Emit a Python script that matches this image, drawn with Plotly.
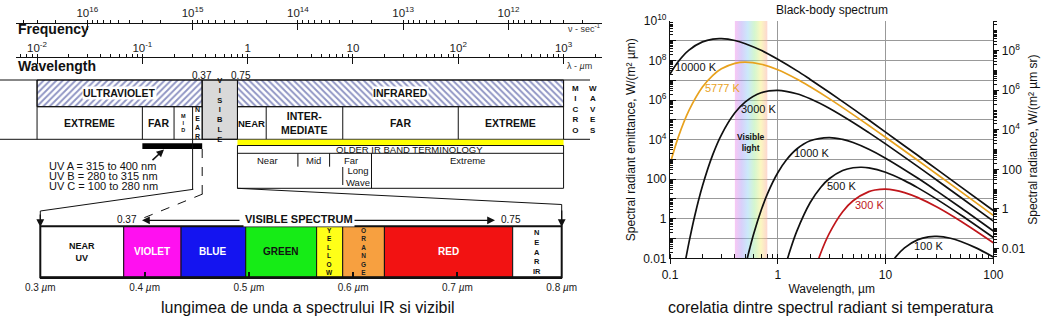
import numpy as np
import plotly.graph_objects as go

W, H = 1047, 325
FONT = "Liberation Sans, Arial, Helvetica, sans-serif"

# ================= DATA =================
# ---- right chart: spectral radiant emittance W/(m^2 um) ----
CURVE_NAMES = ["10000 K", "5777 K", "3000 K", "1000 K", "500 K", "300 K", "100 K"]

WL_10000K = [0.1, 0.12, 0.15, 0.2, 0.25, 0.3, 0.4, 0.5, 0.7, 1, 1.5, 2, 3, 5, 7, 10, 20, 30, 50, 100]
M_10000K = [2.1e7, 9.3e7, 3.4e8, 8.8e8, 1.22e9, 1.28e9, 1.03e9, 7.1e8, 3.3e8, 1.16e8, 3.1e7, 1.11e7,
            2.5e6, 3.6e5, 9.8e4, 2.4e4, 1570, 314, 41, 2.6]

WL_5777K = [0.1, 0.12, 0.15, 0.2, 0.25, 0.3, 0.4, 0.5, 0.7, 1, 1.5, 2, 3, 5, 7, 10, 20, 30, 50, 100]
M_5777K = [571, 1.46e4, 3.0e5, 4.6e6, 1.8e7, 3.8e7, 7.2e7, 8.3e7, 6.5e7, 3.4e7, 1.16e7, 4.7e6,
           1.19e6, 1.85e5, 5.2e4, 1.32e4, 880, 178, 23.4, 1.48]

WL_3000K = [0.13, 0.14, 0.15, 0.17, 0.2, 0.25, 0.3, 0.4, 0.5, 0.7, 1, 1.5, 2, 3, 5, 7, 10, 20, 30, 50, 100]
M_3000K = [1.1e-3, 9.2e-3, 0.064, 1.47, 45, 1790, 1.76e4, 2.27e5, 8.2e5, 2.36e6, 3.12e6, 2.1e6, 1.17e6,
           3.9e5, 7.4e4, 2.26e4, 6080, 431, 88.8, 11.9, 0.76]

WL_1000K = [0.45, 0.5, 0.55, 0.6, 0.7, 0.8, 1, 1.2, 1.5, 2, 3, 4, 5, 7, 10, 20, 30, 50, 100]
M_1000K = [2.6e-4, 3.8e-3, 0.032, 0.185, 2.6, 17.7, 211, 933, 3370, 8790, 1.28e4, 1.03e4, 7130, 3270,
           1160, 111, 25, 3.6, 0.242]

WL_500K = [1, 1.2, 1.3, 1.5, 2, 2.5, 3, 4, 5, 6, 7, 10, 15, 20, 30, 50, 100]
M_500K = [1.2e-4, 5.8e-3, 0.0246, 0.23, 6.6, 38.4, 105, 275, 380, 401, 371, 223, 84.8, 36.4, 9.57, 1.54, 0.112]

WL_300K = [2, 2.5, 3, 4, 5, 7, 8, 10, 12, 15, 20, 30, 50, 100]
M_300K = [4.5e-4, 0.0179, 0.176, 2.27, 8.17, 23.6, 28.5, 31.2, 28.2, 21.0, 11.7, 3.9, 0.744, 0.0608]

WL_100K = [10, 12, 15, 20, 25, 30, 40, 50, 70, 100]
M_100K = [2.1e-3, 9.3e-3, 0.0336, 0.088, 0.122, 0.128, 0.103, 0.0713, 0.0327, 0.0116]

VISIBLE_LIGHT = [0.4, 0.8]          # um, rainbow band

BB_X_TICKS = [0.1, 1, 10, 100]
BB_X_TEXT = ["0.1", "1", "10", "100"]
BB_Y_TICKS = [1e-2, 1e-1, 1, 10, 100, 1e3, 1e4, 1e5, 1e6, 1e7, 1e8, 1e9, 1e10]
BB_Y_TEXT = ["0.01", "", "1", "", "100", "", "10<sup>4</sup>", "", "10<sup>6</sup>", "",
             "10<sup>8</sup>", "", "10<sup>10</sup>"]
BB_Y2_TICKS = [0.01, 1, 100, 1e4, 1e6, 1e8]
BB_Y2_TEXT = ["0.01", "1", "100", "10<sup>4</sup>", "10<sup>6</sup>", "10<sup>8</sup>"]

# ---- left diagram ----
WL_TICKS = [0.01, 0.1, 1, 10, 100, 1000]
WL_TICK_TEXT = ["10<sup>-2</sup>", "10<sup>-1</sup>", "1", "10", "10<sup>2</sup>", "10<sup>3</sup>"]
FREQ_TICKS = [1e16, 1e15, 1e14, 1e13, 1e12]
FREQ_TICK_TEXT = ["10<sup>16</sup>", "10<sup>15</sup>", "10<sup>14</sup>", "10<sup>13</sup>", "10<sup>12</sup>"]

MAJOR_NAMES = ["ULTRAVIOLET", "INFRARED"]
MAJOR_START = [0.01, 0.8]
MAJOR_END = [0.37, 1000]
VISIBLE_BAND = [0.37, 0.8]
UV_EDGES = [0.01, 0.1, 0.2, 0.3, 0.37]
UV_NAMES = ["EXTREME", "FAR", "M<br>I<br>D", "N<br>E<br>A<br>R"]
IR_EDGES = [0.8, 1.5, 8, 100, 1000]
IR_NAMES = ["NEAR", "INTER-<br>MEDIATE", "FAR", "EXTREME"]
OLD_IR_EDGES = [0.8, 3, 6, 15, 1000]
OLD_IR_NAMES = ["Near", "Mid", "Far", "Extreme"]
LONG_WAVE_START = 8
UV_ABC_RANGE = [0.1, 0.37]
UV_ABC_TEXT = ["UV A = 315 to 400 nm", "UV B = 280 to 315 nm", "UV C = 100 to 280 nm"]

VIS_EDGES = [0.3, 0.38, 0.435, 0.497, 0.565, 0.59, 0.63, 0.753, 0.8]
VIS_NAMES = ["NEAR<br>UV", "VIOLET", "BLUE", "GREEN", "Y<br>E<br>L<br>L<br>O<br>W",
             "O<br>R<br>A<br>N<br>G<br>E", "RED", "N<br>E<br>A<br>R<br>IR"]
VIS_TICKS = [0.3, 0.4, 0.5, 0.6, 0.7, 0.8]
VIS_TICK_TEXT = ["0.3 <i>µ</i>m", "0.4 <i>µ</i>m", "0.5 <i>µ</i>m", "0.6 <i>µ</i>m", "0.7 <i>µ</i>m", "0.8 <i>µ</i>m"]

# ================= STYLES =================
CURVE_COLORS = ["#111111", "#e8a21e", "#111111", "#111111", "#111111", "#c0161b", "#111111"]
VIS_COLORS = ["#ffffff", "#ff10f0", "#1414f0", "#16ec16", "#ffff18", "#f7a040", "#f21212", "#ffffff"]
VIS_TEXT_COLORS = ["#111", "#fff", "#fff", "#111", "#111", "#222", "#fff", "#111"]
VIS_TEXT_SIZES = [9, 10, 10, 10, 6.5, 6.5, 10, 7.5]


def px(x):
    return x / W


def py(y):
    return 1 - y / H


def glog(a, b):
    return (np.log10(a) + np.log10(b)) / 2


fig = go.Figure()
shapes = []
annots = []


def ann(text, x, y, xref="paper", yref="paper", size=11, color="#111", bold=False, **kw):
    t = f"<b>{text}</b>" if bold else text
    d = dict(text=t, x=x, y=y, xref=xref, yref=yref, showarrow=False, xanchor="center", yanchor="middle",
             font=dict(family=FONT, size=size, color=color))
    d.update(kw)
    annots.append(d)


def seg(x0, y0, x1, y1, xref="x", yref="y", color="#111", width=1, dash=None):
    ln = dict(color=color, width=width)
    if dash:
        ln["dash"] = dash
    shapes.append(dict(type="line", x0=x0, y0=y0, x1=x1, y1=y1, xref=xref, yref=yref, line=ln, layer="above"))


def pseg(x0, y0, x1, y1, **kw):
    seg(px(x0), py(y0), px(x1), py(y1), xref="paper", yref="paper", **kw)


def arrow_head(xh, yh, ax, ay, width=1.2, size=1.0):
    annots.append(dict(text="", x=px(xh), y=py(yh), xref="paper", yref="paper", showarrow=True,
                       ax=ax, ay=ay, arrowhead=2, arrowsize=size, arrowwidth=width, arrowcolor="#111"))


# ================= RIGHT CHART =================
Y_LO, Y_HI = -2, 10
vx = [VISIBLE_LIGHT[0], VISIBLE_LIGHT[1], VISIBLE_LIGHT[1], VISIBLE_LIGHT[0], VISIBLE_LIGHT[0]]
vy = [10 ** Y_LO, 10 ** Y_LO, 10 ** Y_HI, 10 ** Y_HI, 10 ** Y_LO]
fig.add_trace(go.Scatter(
    x=vx, y=vy, mode="none", fill="toself", xaxis="x2", yaxis="y2",
    fillgradient=dict(type="horizontal", colorscale=[
        [0.0, "rgba(240,130,230,0.45)"], [0.2, "rgba(170,150,245,0.45)"],
        [0.4, "rgba(140,205,245,0.45)"], [0.6, "rgba(160,235,150,0.45)"],
        [0.8, "rgba(248,240,130,0.5)"], [1.0, "rgba(250,175,160,0.5)"]]),
    hoverinfo="skip", showlegend=False))

curves = [(WL_10000K, M_10000K), (WL_5777K, M_5777K), (WL_3000K, M_3000K), (WL_1000K, M_1000K),
          (WL_500K, M_500K), (WL_300K, M_300K), (WL_100K, M_100K)]
for (wl, m), col in zip(curves, CURVE_COLORS):
    fig.add_trace(go.Scatter(x=wl, y=m, mode="lines", xaxis="x2", yaxis="y2",
                             line=dict(color=col, width=1.7, shape="spline", smoothing=1.0),
                             hoverinfo="skip", showlegend=False))
# dummy trace so the right-hand axis is rendered
fig.add_trace(go.Scatter(x=[1], y=[1], mode="markers", marker=dict(opacity=0), xaxis="x2", yaxis="y3",
                         hoverinfo="skip", showlegend=False))

label_pos = [(0.174, 4.85e7), (0.31, 4.2e6), (0.67, 3.5e5), (2.08, 2150), (3.87, 45.8), (7.05, 4.83), (24.9, 0.0405)]
label_col = ["#111", "#e8a21e", "#111", "#111", "#111", "#c0161b", "#111"]
for name, (lx, ly), c in zip(CURVE_NAMES, label_pos, label_col):
    ann(name, np.log10(lx), np.log10(ly), xref="x2", yref="y2", size=11, color=c)
ann("Visible<br>light", np.log10(0.56), np.log10(7460), xref="x2", yref="y2", size=8.5, bold=True)
ann("Black-body spectrum", px(832), py(10), size=12)

# ================= LEFT DIAGRAM =================
Y_TOP, Y_MID, Y_BOT = 80, 106.7, 139.3

# hatched UV / IR band row
fig.add_trace(go.Bar(
    y=[(Y_TOP + Y_MID) / 2] * 2, base=MAJOR_START,
    x=[e - s for s, e in zip(MAJOR_START, MAJOR_END)], orientation="h", width=Y_MID - Y_TOP,
    xaxis="x", yaxis="y",
    marker=dict(color="white", line=dict(color="#111", width=1),
                pattern=dict(shape=["/", "\\"], fgcolor="#1f2a88", bgcolor="white", size=4.5, solidity=0.42)),
    hoverinfo="skip", showlegend=False))
# dummy on frequency axis
fig.add_trace(go.Scatter(x=[1e14], y=[-50], mode="markers", marker=dict(opacity=0), xaxis="x3", yaxis="y",
                         hoverinfo="skip", showlegend=False))

# visible gray block
shapes.append(dict(type="rect", x0=VISIBLE_BAND[0], x1=VISIBLE_BAND[1], y0=Y_TOP, y1=Y_BOT, xref="x", yref="y",
                   fillcolor="#d9d9d9", line=dict(color="#111", width=1), layer="above"))
ann("V<br>I<br>S<br>I<br>B<br>L<br>E", glog(*VISIBLE_BAND), (Y_TOP + Y_BOT) / 2, xref="x", yref="y", size=7.5, bold=True)

# frame lines
pseg(0, Y_TOP, 590, Y_TOP)
pseg(0, Y_BOT, 590, Y_BOT)
for xv in [MAJOR_START[0], MAJOR_END[0], MAJOR_START[1], MAJOR_END[1]]:
    seg(xv, Y_TOP, xv, Y_BOT)
seg(UV_EDGES[0], Y_MID, UV_EDGES[-1], Y_MID)
seg(IR_EDGES[0], Y_MID, IR_EDGES[-1], Y_MID)
for xv in UV_EDGES[1:-1] + IR_EDGES[1:-1]:
    seg(xv, Y_MID, xv, Y_BOT)

# labels band row
for name, s, e in zip(MAJOR_NAMES, MAJOR_START, MAJOR_END):
    ann(name, glog(s, e), (Y_TOP + Y_MID) / 2, xref="x", yref="y", size=10.5, bold=True, bgcolor="white",
        borderpad=0)
uv_sizes = [10.5, 10.5, 5.5, 7]
for i, name in enumerate(UV_NAMES):
    ann(name, glog(UV_EDGES[i], UV_EDGES[i + 1]), (Y_MID + Y_BOT) / 2, xref="x", yref="y",
        size=uv_sizes[i], bold=True)
ir_sizes = [9.5, 10.5, 10.5, 10.5]
for i, name in enumerate(IR_NAMES):
    ann(name, glog(IR_EDGES[i], IR_EDGES[i + 1]), (Y_MID + Y_BOT) / 2, xref="x", yref="y",
        size=ir_sizes[i], bold=True)
ann("M<br>I<br>C<br>R<br>O", px(575), py(109), size=8, bold=True)
ann("W<br>A<br>V<br>E<br>S", px(593), py(109), size=8, bold=True)
ann("0.37", np.log10(VISIBLE_BAND[0]), 75, xref="x", yref="y", size=10)
ann("0.75", np.log10(VISIBLE_BAND[1]), 75, xref="x", yref="y", size=10, xshift=4)

# axis captions
ann("Frequency", px(16), py(28.5), size=14, bold=True, xanchor="left")
ann("Wavelength", px(16), py(66), size=14, bold=True, xanchor="left")
ann("ν - sec<sup>-1</sup>", px(566), py(28), size=9, xanchor="left", color="#333")
ann("λ - <i>µ</i>m", px(565), py(66), size=9, xanchor="left", color="#333")

# UV A/B/C bar and text
shapes.append(dict(type="rect", x0=UV_ABC_RANGE[0], x1=UV_ABC_RANGE[1], y0=143.3, y1=149, xref="x", yref="y",
                   fillcolor="#000", line=dict(width=0), layer="above"))
for i, t in enumerate(UV_ABC_TEXT):
    ann(t, px(46.5), py(165.7 + 10 * i), size=11, xanchor="left")
arrow_head(164, 149.5, -13, 12, width=1.5)

# older IR terminology box
shapes.append(dict(type="rect", x0=OLD_IR_EDGES[0], x1=OLD_IR_EDGES[-1], y0=Y_BOT + 0.5, y1=145.5, xref="x",
                   yref="y", fillcolor="#ffff00", line=dict(width=0), layer="above"))
shapes.append(dict(type="rect", x0=OLD_IR_EDGES[0], x1=OLD_IR_EDGES[-1], y0=145.5, y1=188.3, xref="x",
                   yref="y", fillcolor="rgba(0,0,0,0)", line=dict(color="#111", width=1), layer="above"))
seg(OLD_IR_EDGES[0], 153.3, OLD_IR_EDGES[-1], 153.3)
seg(OLD_IR_EDGES[1], 153.3, OLD_IR_EDGES[1], 166.7)
seg(OLD_IR_EDGES[2], 153.3, OLD_IR_EDGES[2], 166.7)
seg(OLD_IR_EDGES[3], 153.3, OLD_IR_EDGES[3], 188.3)
seg(LONG_WAVE_START, 167, LONG_WAVE_START, 185)
ann("OLDER IR BAND TERMINOLOGY", glog(OLD_IR_EDGES[0], OLD_IR_EDGES[-1]), 149.3, xref="x", yref="y",
    size=9.5, xshift=9)
for i, name in enumerate(OLD_IR_NAMES):
    ann(name, glog(OLD_IR_EDGES[i], OLD_IR_EDGES[i + 1]), 160.7, xref="x", yref="y", size=9.5)
ann("Long<br>Wave", np.log10(LONG_WAVE_START), 176.5, xref="x", yref="y", size=9.5, xanchor="left", xshift=1)

# connectors to the visible-spectrum bar
seg(UV_EDGES[3], Y_BOT, UV_EDGES[3], 189.3)
pseg(193.3, 189.3, 40.3, 211)
pseg(40.3, 211, 40.3, 222)
arrow_head(40.3, 227, 0, -14, width=1.3, size=1.2)
seg(UV_EDGES[4], 149, UV_EDGES[4], 194, dash="dash")
pseg(202.7, 194, 143.5, 218, dash="dash")
pseg(237.3, 188.3, 561.7, 204.5)
pseg(561.7, 204.5, 561.7, 222)
arrow_head(561.7, 227, 0, -18, width=1.3, size=1.2)

# VISIBLE SPECTRUM arrow row
arrow_head(142, 220.3, 99, 0, width=1.2, size=1.3)
arrow_head(495, 220.3, -143, 0, width=1.2, size=1.3)
ann("0.37", px(127), py(219.3), size=10)
ann("0.75", px(511), py(219.3), size=10)
ann("VISIBLE SPECTRUM", px(299), py(219.3), size=11, bold=True, bgcolor="white")

# visible spectrum colour bar
fig.add_trace(go.Bar(
    y=[0] * (len(VIS_EDGES) - 1), base=VIS_EDGES[:-1],
    x=[e - s for s, e in zip(VIS_EDGES[:-1], VIS_EDGES[1:])], orientation="h", width=1,
    xaxis="x4", yaxis="y4", marker=dict(color=VIS_COLORS, line=dict(color="#111", width=1)),
    hoverinfo="skip", showlegend=False))
shapes.append(dict(type="rect", x0=0, x1=1, y0=0, y1=1, xref="x4 domain", yref="y4 domain",
                   line=dict(color="#111", width=2), layer="above"))
for i, name in enumerate(VIS_NAMES):
    ann(name, (VIS_EDGES[i] + VIS_EDGES[i + 1]) / 2, 0, xref="x4", yref="y4", size=VIS_TEXT_SIZES[i],
        color=VIS_TEXT_COLORS[i], bold=True)

# captions
ann("lungimea de unda a spectrului IR si vizibil", px(307.5), py(307.5), size=16)
ann("corelatia dintre spectrul radiant si temperatura", px(831), py(307.5), size=16)

# ================= LAYOUT =================
axis_font = dict(family=FONT, size=11.5, color="#222")
top_axis_common = dict(type="log", side="top", anchor="free", showline=True, linecolor="#111", linewidth=1,
                       ticks="inside", ticklen=6, tickcolor="#111", showgrid=False, zeroline=False,
                       tickfont=axis_font, ticklabelstandoff=1, automargin=False,
                       minor=dict(ticks="outside", ticklen=3, tickcolor="#111", dtick="D1", showgrid=False))

fig.update_layout(
    width=W, height=H, margin=dict(l=0, r=0, t=0, b=0, autoexpand=False),
    paper_bgcolor="white", plot_bgcolor="white", barmode="overlay",
    font=dict(family=FONT, size=12, color="#111"),
    xaxis=dict(range=[-2.2, 3.365], domain=[px(16), px(602)], position=py(57.3),
               tickvals=WL_TICKS, ticktext=WL_TICK_TEXT, **top_axis_common),
    xaxis3=dict(range=[16.677, 11.112], overlaying="x", position=py(22.7),
                tickvals=FREQ_TICKS, ticktext=FREQ_TICK_TEXT, **top_axis_common),
    yaxis=dict(range=[H, 0], domain=[0, 1], visible=False, fixedrange=True, automargin=False),
    xaxis2=dict(type="log", range=[-1, 2], domain=[px(670), px(993.3)], anchor="y2", automargin=False,
                tickvals=BB_X_TICKS, ticktext=BB_X_TEXT, ticks="outside", ticklen=5, tickcolor="#111",
                minor=dict(ticks="inside", ticklen=4, tickcolor="#111", dtick="D1", showgrid=False),
                showline=True, linecolor="#111", linewidth=1.2, showgrid=True, gridcolor="#999",
                gridwidth=1, zeroline=False, tickfont=dict(family=FONT, size=12, color="#111"),
                title=dict(text="Wavelength, µm", font=dict(family=FONT, size=12), standoff=3)),
    yaxis2=dict(type="log", range=[Y_LO, Y_HI], domain=[py(258.3), py(21)], anchor="x2", automargin=False,
                tickvals=BB_Y_TICKS, ticktext=BB_Y_TEXT, ticks="inside", ticklen=6, tickcolor="#111",
                minor=dict(ticks="inside", ticklen=3, tickcolor="#111", dtick="D1", showgrid=False),
                showline=True, linecolor="#111", linewidth=1.2, showgrid=True, gridcolor="#999",
                gridwidth=1, zeroline=False, tickfont=dict(family=FONT, size=12, color="#111"),
                title=dict(text="Spectral radiant emittance, W/(m² µm)", font=dict(family=FONT, size=12),
                           standoff=4)),
    yaxis3=dict(type="log", range=[np.log10(0.01 / np.pi), np.log10(1e10 / np.pi)], overlaying="y2",
                side="right", anchor="x2", automargin=False, tickvals=BB_Y2_TICKS, ticktext=BB_Y2_TEXT,
                ticks="outside", ticklen=5, tickcolor="#111",
                minor=dict(ticks="outside", ticklen=3, tickcolor="#111", dtick="D1", showgrid=False),
                showline=True, linecolor="#111", linewidth=1.2, showgrid=False, zeroline=False,
                tickfont=dict(family=FONT, size=12, color="#111"),
                title=dict(text="Spectral radiance, W/(m² µm sr)", font=dict(family=FONT, size=12),
                           standoff=4)),
    xaxis4=dict(range=[VIS_EDGES[0], VIS_EDGES[-1]], domain=[px(40.3), px(561.7)], anchor="y4",
                automargin=False,
                tickvals=VIS_TICKS, ticktext=VIS_TICK_TEXT, ticks="inside", ticklen=6, tickcolor="#111",
                tickwidth=1.5, showline=True, linecolor="#111", linewidth=1.5, showgrid=False, zeroline=False,
                tickfont=dict(family=FONT, size=10, color="#222")),
    yaxis4=dict(range=[-0.5, 0.5], domain=[py(277.3), py(226.3)], anchor="x4", visible=False,
                automargin=False),
    shapes=shapes, annotations=annots,
)

fig.write_html("out.html")
